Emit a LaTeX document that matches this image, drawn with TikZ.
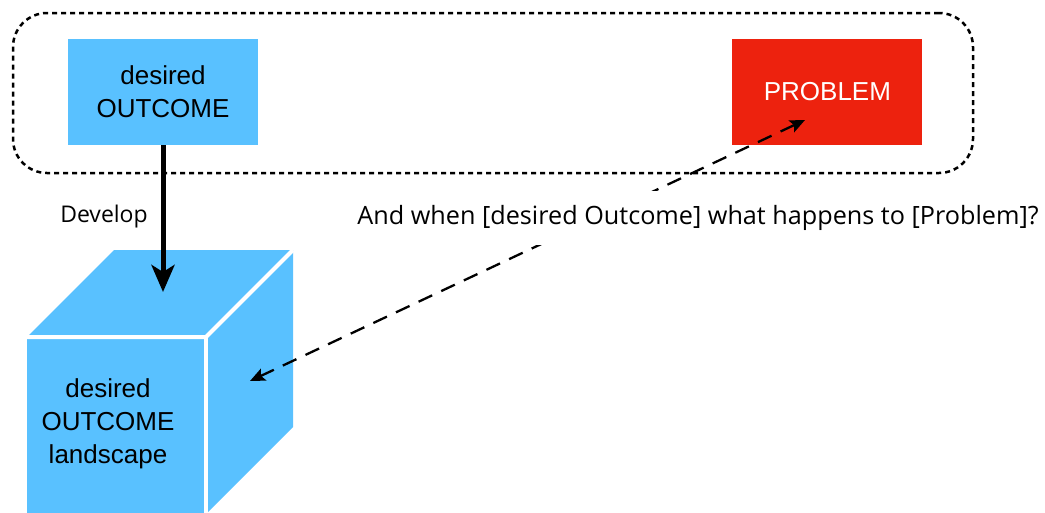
\documentclass[tikz,border=0pt]{standalone}
\usepackage{fontspec}
\setmainfont{Liberation Sans}
\newfontfamily\notefont{Open Sans}
\usetikzlibrary{arrows.meta,positioning}
\definecolor{skyblue}{RGB}{89,193,255}
\definecolor{alarmred}{RGB}{237,34,14}
\tikzset{main node/.style={rectangle,draw=none,minimum width=190pt,minimum height=106pt,inner sep=0pt,align=center,font=\fontsize{26}{33}\selectfont},
         outcome node/.style={main node,fill=skyblue,text=black},
         problem node/.style={main node,fill=alarmred,text=white},
         group box/.style={rectangle,draw,rounded corners=34pt,line width=2.5pt,dash pattern=on 5pt off 4pt,minimum width=960pt,minimum height=160pt},
         edge label/.style={rectangle,fill=white,inner xsep=2pt,inner ysep=14pt,font=\notefont\fontsize{25.2}{28}\selectfont},
         note label/.style={rectangle,inner sep=0pt,font=\notefont\fontsize{23}{26}\selectfont},
         cube face/.style={fill=skyblue,draw=none},
         cube edge/.style={draw=white,line width=4pt},
}

\begin{document}
\begin{tikzpicture}[x=1pt,y=-1pt,>={Stealth[length=15pt,width=13pt,inset=3pt]}]

% \draw[help lines] (0,0) grid (1045,512);
\useasboundingbox (0,0) rectangle (1045,512);

\node[group box] (group) at (493,93) {};
\node[outcome node] (outcome) at (163,92) {desired\\OUTCOME};
\node[problem node, right=474pt of outcome] (problem) {PROBLEM};

% cube
\fill[cube face] (27,337) -- (114,250) -- (293,250) -- (293,427) -- (206,514) -- (27,514) -- cycle;
\draw[cube edge] (27,337) -- (206,337) -- (293,250);
\draw[cube edge] (206,337) -- (206,514);
\node[main node, minimum width=0pt, minimum height=0pt] (landscape) at (108,424) {desired\\OUTCOME\\landscape};

\coordinate (cube top) at (163,292);
\coordinate (cube side) at (250,381);
\coordinate (problem spot) at (805,120);

\draw[line width=5pt,-{Stealth[length=27pt,width=23pt,inset=7pt]}] (outcome.south) -- (cube top);
\node[note label] (develop) at (104,217) {Develop};

\draw[<->,line width=2.3pt,dash pattern=on 15pt off 10pt] (cube side) -- (problem spot);
\node[edge label] (ask) at (698,218) {And when [desired Outcome] what happens to [Problem]?};
\end{tikzpicture}
\end{document}
